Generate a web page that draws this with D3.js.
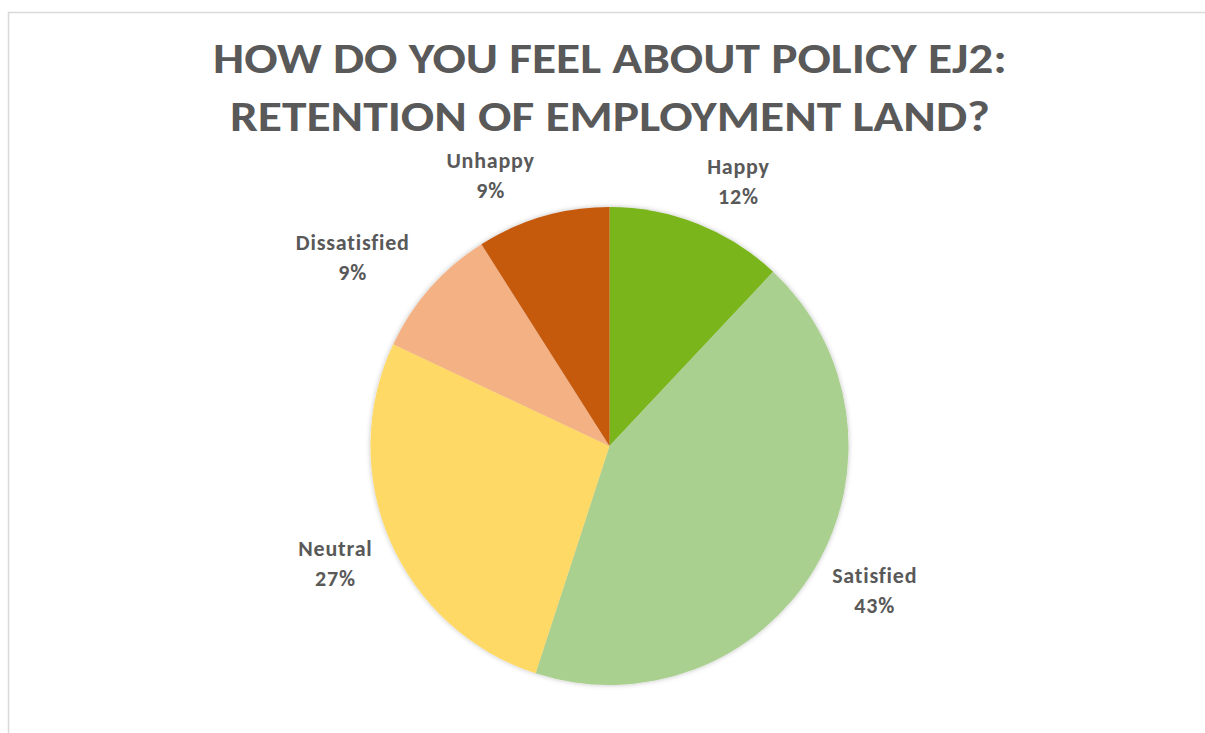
<!DOCTYPE html>
<html>
<head>
<meta charset="utf-8">
<script src="https://cdn.jsdelivr.net/npm/d3@7"></script>
<style>
  html, body { margin: 0; padding: 0; background: #ffffff; }
  svg { display: block; }
</style>
</head>
<body>
<svg id="chart" width="1205" height="733"></svg>
<script>
// Survey responses for policy EJ2
const categories = ["Happy", "Satisfied", "Neutral", "Dissatisfied", "Unhappy"];
const values = [12, 43, 27, 9, 9];
const colors = ["#7AB51D", "#A9D08E", "#FFD966", "#F4B183", "#C55A11"];
const titleLines = ["HOW DO YOU FEEL ABOUT POLICY EJ2:", "RETENTION OF EMPLOYMENT LAND?"];

const svg = d3.select("#chart");
const W = 1205, H = 733;
const cx = 609.5, cy = 446, R = 239;
const font = "Carlito, 'Open Sans', Lato, sans-serif";
const textColor = "#595959";

// chart area frame
svg.append("rect")
  .attr("x", 8.5).attr("y", 12.5)
  .attr("width", W + 10).attr("height", H + 10)
  .attr("fill", "#fff")
  .attr("stroke", "#d9d9d9").attr("stroke-width", 1.5);

// title
const title = svg.append("g");
const titleY = [73, 131];
const titleW = [794, 760];
titleLines.forEach((t, i) => {
  title.append("text")
    .attr("x", 610).attr("y", titleY[i])
    .attr("text-anchor", "middle")
    .attr("font-family", font)
    .attr("font-weight", "bold")
    .attr("font-size", 42)
    .attr("fill", textColor)
    .attr("textLength", titleW[i])
    .attr("lengthAdjust", "spacingAndGlyphs")
    .text(t);
});

// soft shadow under the pie
const defs = svg.append("defs");
const f = defs.append("filter").attr("id", "shadow")
  .attr("x", "-10%").attr("y", "-10%").attr("width", "120%").attr("height", "120%");
f.append("feDropShadow").attr("dx", 0).attr("dy", 0).attr("stdDeviation", 2.5)
  .attr("flood-color", "#000").attr("flood-opacity", 0.25);

const pie = d3.pie().sort(null).value(d => d)(values);
const arc = d3.arc().innerRadius(0).outerRadius(R);

const g = svg.append("g").attr("transform", `translate(${cx},${cy})`);
g.append("g").attr("filter", "url(#shadow)")
  .selectAll("path")
  .data(pie)
  .join("path")
  .attr("d", arc)
  .attr("fill", (d, i) => colors[i]);

// data labels: placed around the pie (best-fit offsets from each slice's middle)
const labelShift = [5, -1, -1, -6, -8];   // degrees added to the slice mid-angle
const labelRadius = [288, 305, 301, 315, 290];
const labels = g.append("g")
  .attr("font-family", font)
  .attr("font-weight", "bold")
  .attr("font-size", 22)
  .attr("letter-spacing", 0.8)
  .attr("fill", textColor)
  .attr("text-anchor", "middle");

pie.forEach((d, i) => {
  const mid = (d.startAngle + d.endAngle) / 2 + labelShift[i] * Math.PI / 180;
  const x = Math.sin(mid) * labelRadius[i];
  const y = -Math.cos(mid) * labelRadius[i];
  const pct = Math.round(100 * values[i] / d3.sum(values)) + "%";
  const t = labels.append("text").attr("x", x).attr("y", y - 14);
  t.append("tspan").attr("x", x).attr("dy", 0).text(categories[i]);
  t.append("tspan").attr("x", x).attr("dy", 30).text(pct);
});
</script>
</body>
</html>
